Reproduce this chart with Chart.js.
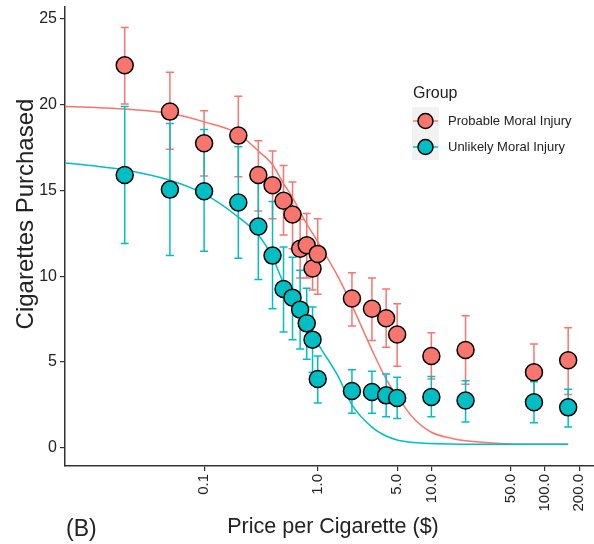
<!DOCTYPE html>
<html>
<head>
<meta charset="utf-8">
<script src="https://cdn.jsdelivr.net/npm/chart.js@4/dist/chart.umd.min.js"></script>
<style>
  html, body { margin: 0; padding: 0; background: #fff; }
  #wrap { width: 594px; height: 544px; position: relative; }
</style>
</head>
<body>
<div id="wrap"><canvas id="c" width="594" height="544"></canvas></div>
<script>
// ---------- data ----------
const prices = [0.02, 0.05, 0.1, 0.2, 0.3, 0.4, 0.5, 0.6, 0.7, 0.8, 0.9, 1, 2, 3, 4, 5, 10, 20, 80, 160];

const probableMean  = [22.3, 19.6, 17.75, 18.2, 15.9, 15.3, 14.4, 13.6, 11.6, 11.8, 10.45, 11.3, 8.7, 8.1, 7.55, 6.6, 5.35, 5.7, 4.4, 5.1];
const probableUpper = [24.5, 21.9, 19.65, 20.5, 17.9, 17.3, 16.45, 15.5, 13.3, 13.65, 11.7, 13.35, 10.2, 9.9, 9.25, 8.4, 6.7, 7.7, 6.05, 7.0];
const probableLower = [20.05, 17.4, 15.85, 15.8, 13.8, 13.35, 12.4, 11.6, 9.9, 9.9, 9.2, 8.95, 7.1, 6.25, 5.85, 4.75, 4.0, 3.7, 2.8, 3.1];

const unlikelyMean  = [15.9, 15.05, 14.95, 14.3, 12.9, 11.2, 9.25, 8.75, 8.05, 7.25, 6.3, 4.0, 3.3, 3.25, 3.05, 2.9, 2.95, 2.75, 2.65, 2.35];
const unlikelyUpper = [19.9, 18.9, 18.55, 17.55, 15.95, 14.35, 11.7, 11.1, 10.35, 9.3, 8.2, 5.35, 4.55, 4.45, 4.3, 4.1, 4.15, 3.9, 3.85, 3.4];
const unlikelyLower = [11.9, 11.2, 11.45, 11.05, 9.8, 8.1, 6.75, 6.3, 5.75, 5.15, 4.4, 2.6, 2.0, 2.0, 1.8, 1.7, 1.8, 1.5, 1.45, 1.2];

const curvePrices   = [0.006, 0.01, 0.02, 0.05, 0.1, 0.2, 0.3, 0.4, 0.5, 0.6, 0.7, 0.8, 0.9, 1, 1.5, 2, 3, 4, 5, 7, 10, 15, 20, 30, 50, 100, 160];
const probableCurve = [19.9, 19.85, 19.75, 19.5, 19.0, 18.3, 17.3, 16.5, 15.4, 14.6, 13.75, 13.05, 12.5, 12.0, 10.0, 8.3, 5.7, 4.0, 3.0, 1.7, 0.9, 0.55, 0.4, 0.3, 0.22, 0.2, 0.2];
const unlikelyCurve = [16.6, 16.45, 16.2, 15.6, 14.8, 13.45, 12.4, 11.1, 9.6, 8.7, 7.95, 7.25, 6.7, 6.1, 4.2, 2.5, 1.2, 0.68, 0.45, 0.3, 0.24, 0.21, 0.2, 0.2, 0.2, 0.2, 0.2];

const xTickValues = [0.1, 1, 5, 10, 50, 100, 200];
const xTickLabels = ["0.1", "1.0", "5.0", "10.0", "50.0", "100.0", "200.0"];
const yTickValues = [0, 5, 10, 15, 20, 25];
const yTickLabels = ["0", "5", "10", "15", "20", "25"];

const groupNames = ["Probable Moral Injury", "Unlikely Moral Injury"];
const legendTitle = "Group";
const xTitle = "Price per Cigarette ($)";
const yTitle = "Cigarettes Purchased";
const panelLabel = "(B)";

// ---------- styles ----------
const RED = "#F8766D";
const TEAL = "#00BFC4";
const FONT = "'Liberation Sans', Arial, Helvetica, sans-serif";
const AXIS = "#333333";
const TXT = "#222222";

const toXY = (xs, ys) => xs.map((v, i) => ({ x: v, y: ys[i] }));

const errorGroups = [
  { color: RED, upper: probableUpper, lower: probableLower },
  { color: TEAL, upper: unlikelyUpper, lower: unlikelyLower }
];

const errorBarPlugin = {
  id: 'errbars',
  beforeDatasetDraw(chart, args) {
    if (args.index !== 2) return;
    const { ctx, scales: { x, y }, chartArea } = chart;
    ctx.save();
    ctx.beginPath();
    ctx.rect(chartArea.left, chartArea.top, chartArea.right - chartArea.left, chartArea.bottom - chartArea.top);
    ctx.clip();
    errorGroups.forEach(g => {
      ctx.strokeStyle = g.color;
      ctx.lineWidth = 1.5;
      prices.forEach((p, i) => {
        const px = x.getPixelForValue(p);
        const top = y.getPixelForValue(g.upper[i]);
        const bot = y.getPixelForValue(g.lower[i]);
        ctx.beginPath();
        ctx.moveTo(px, top); ctx.lineTo(px, bot);
        ctx.moveTo(px - 4, top); ctx.lineTo(px + 4, top);
        ctx.moveTo(px - 4, bot); ctx.lineTo(px + 4, bot);
        ctx.stroke();
      });
    });
    ctx.restore();
  }
};

const decorPlugin = {
  id: 'decor',
  afterDraw(chart) {
    const { ctx } = chart;
    ctx.save();
    ctx.fillStyle = TXT;
    // y title
    ctx.save();
    ctx.translate(26, 214);
    ctx.rotate(-Math.PI / 2);
    ctx.font = "24px " + FONT;
    ctx.textAlign = "center";
    ctx.textBaseline = "middle";
    ctx.fillText(yTitle, 0, 0);
    ctx.restore();
    // x title
    ctx.font = "21.5px " + FONT;
    ctx.textAlign = "center";
    ctx.textBaseline = "alphabetic";
    ctx.fillText(xTitle, 333, 533);
    // panel label
    ctx.font = "23px " + FONT;
    ctx.textAlign = "left";
    ctx.fillText(panelLabel, 66, 536);
    // legend
    ctx.font = "16px " + FONT;
    ctx.fillText(legendTitle, 413, 98);
    ctx.fillStyle = "#F2F2F2";
    ctx.fillRect(412, 107, 27, 53);
    const keys = [{ c: RED, y: 121 }, { c: TEAL, y: 147 }];
    keys.forEach((k, i) => {
      ctx.strokeStyle = k.c;
      ctx.lineWidth = 1.5;
      ctx.beginPath();
      ctx.moveTo(413, k.y); ctx.lineTo(438, k.y);
      ctx.stroke();
      ctx.beginPath();
      ctx.arc(425.5, k.y, 7.5, 0, Math.PI * 2);
      ctx.fillStyle = k.c;
      ctx.fill();
      ctx.strokeStyle = "#000";
      ctx.lineWidth = 1.5;
      ctx.stroke();
      ctx.fillStyle = TXT;
      ctx.font = "13px " + FONT;
      ctx.textAlign = "left";
      ctx.textBaseline = "middle";
      ctx.fillText(groupNames[i], 448, k.y);
    });
    ctx.restore();
  }
};

new Chart(document.getElementById('c'), {
  type: 'scatter',
  data: {
    datasets: [
      {
        label: groupNames[0] + " fit",
        data: toXY(curvePrices, probableCurve),
        showLine: true, pointRadius: 0, borderColor: RED, borderWidth: 1.5,
        cubicInterpolationMode: 'monotone', order: 4
      },
      {
        label: groupNames[1] + " fit",
        data: toXY(curvePrices, unlikelyCurve),
        showLine: true, pointRadius: 0, borderColor: TEAL, borderWidth: 1.5,
        cubicInterpolationMode: 'monotone', order: 3
      },
      {
        label: groupNames[0],
        data: toXY(prices, probableMean),
        pointRadius: 8.5, pointBackgroundColor: RED, pointBorderColor: "#000",
        pointBorderWidth: 1.5, backgroundColor: RED, borderColor: "#000", order: 2
      },
      {
        label: groupNames[1],
        data: toXY(prices, unlikelyMean),
        pointRadius: 8.5, pointBackgroundColor: TEAL, pointBorderColor: "#000",
        pointBorderWidth: 1.5, backgroundColor: TEAL, borderColor: "#000", order: 1
      }
    ]
  },
  options: {
    responsive: false,
    animation: false,
    clip: false,
    layout: { autoPadding: false, padding: { top: 7, right: 0, left: 0, bottom: 0 } },
    plugins: { legend: { display: false }, tooltip: { enabled: false }, title: { display: false } },
    scales: {
      x: {
        type: 'logarithmic',
        min: 0.005965,
        max: 270,
        afterBuildTicks: s => { s.ticks = xTickValues.map(v => ({ value: v })); },
        afterFit: s => { s.height = 78; s.paddingLeft = 0; s.paddingRight = 0; },
        ticks: {
          autoSkip: false, minRotation: 90, maxRotation: 90, padding: 3,
          color: TXT, font: { family: FONT, size: 15 },
          callback: (v, i) => xTickLabels[i]
        },
        grid: { display: true, drawOnChartArea: false, drawTicks: true, tickLength: 5, color: AXIS, lineWidth: 1.2 },
        border: { display: true, color: AXIS, width: 1.5 }
      },
      y: {
        type: 'linear',
        min: -1.07,
        max: 25.7,
        afterBuildTicks: s => { s.ticks = yTickValues.map(v => ({ value: v })); },
        afterFit: s => { s.width = 65; s.paddingTop = 0; s.paddingBottom = 0; },
        ticks: {
          padding: 3, color: TXT, font: { family: FONT, size: 16 },
          callback: (v, i) => yTickLabels[i]
        },
        grid: { display: true, drawOnChartArea: false, drawTicks: true, tickLength: 5, color: AXIS, lineWidth: 1.2 },
        border: { display: true, color: AXIS, width: 1.5 }
      }
    }
  },
  plugins: [errorBarPlugin, decorPlugin]
});
</script>
</body>
</html>
